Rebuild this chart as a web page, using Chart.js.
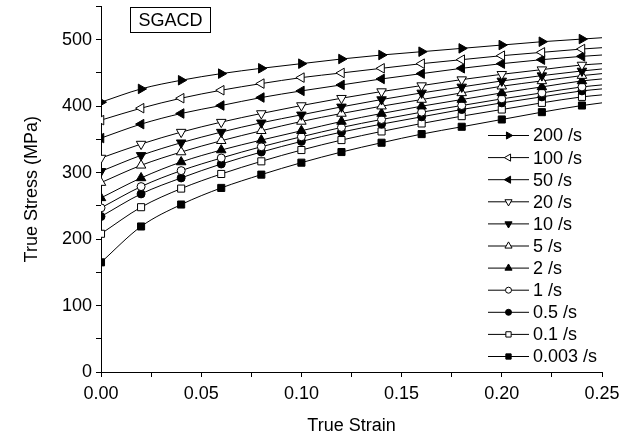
<!DOCTYPE html>
<html>
<head>
<meta charset="utf-8">
<script src="https://cdn.jsdelivr.net/npm/chart.js@4.4.1/dist/chart.umd.min.js"></script>
<style>
body { margin: 0; background: #fff; }
</style>
</head>
<body>
<canvas id="stressStrain" width="632" height="443"></canvas>
<script>
// TRUE STRESS vs TRUE STRAIN (SGACD)

const strains = [0, 0.02, 0.04, 0.06, 0.08, 0.10, 0.12, 0.14, 0.16, 0.18, 0.20, 0.22, 0.24, 0.25];

const rateLabels = ["200 /s", "100 /s", "50 /s", "20 /s", "10 /s", "5 /s", "2 /s", "1 /s", "0.5 /s", "0.1 /s", "0.003 /s"];

const stress200 = [406, 426, 439, 449, 457, 464, 471, 477, 482, 487, 492, 497, 501, 503];
const stress100 = [379, 397, 412, 424, 434, 443, 450, 457, 464, 470, 476, 481, 486, 488];
const stress50 = [352, 373, 389, 401, 413, 423, 432, 441, 449, 457, 464, 470, 475, 477];
const stress20 = [322, 343, 361, 376, 389, 401, 412, 422, 431, 440, 448, 455, 462, 464];
const stress10 = [302, 326, 345, 361, 375, 387, 399, 410, 420, 429, 438, 446, 453, 456];
const stress5 = [285, 311, 331, 348, 363, 377, 389, 400, 410, 420, 430, 438, 446, 449];
const stress2 = [262, 292, 316, 334, 349, 363, 377, 389, 400, 410, 420, 429, 438, 441];
const stress1 = [247, 279, 303, 322, 339, 354, 368, 380, 391, 401, 411, 420, 429, 432];
const stress05 = [234, 268, 292, 313, 331, 347, 361, 373, 384, 395, 405, 414, 423, 426];
const stress01 = [208, 248, 276, 298, 317, 334, 349, 362, 374, 385, 395, 405, 414, 417];
const stress0003 = [165, 219, 252, 277, 297, 315, 331, 345, 358, 369, 380, 391, 401, 405];

const allStress = [stress200, stress100, stress50, stress20, stress10, stress5, stress2, stress1, stress05, stress01, stress0003];

// marker look for each rate
const markerStyles = ["triangle", "triangle", "triangle", "triangle", "triangle", "triangle", "triangle", "circle", "circle", "rect", "rect"];
const markerRotations = [90, -90, -90, 180, 180, 0, 0, 0, 0, 0, 0];
const markerFilled = [true, false, true, false, true, false, true, false, true, false, true];
const markerSizes = [5.5, 5.5, 5.5, 5.5, 5.5, 5.5, 5.5, 4, 4, 5, 5];

Chart.defaults.font.family = "'Liberation Sans', Arial, sans-serif";
Chart.defaults.font.size = 18;
Chart.defaults.color = "#000";

const datasets = allStress.map((values, i) => ({
	label: rateLabels[i],
	data: strains.map((s, j) => ({ x: s, y: values[j] })),
	borderColor: "#000",
	borderWidth: 1,
	pointStyle: markerStyles[i],
	pointRotation: markerRotations[i],
	pointBackgroundColor: markerFilled[i] ? "#000" : "#fff",
	pointBorderColor: "#000",
	pointBorderWidth: 1,
	pointRadius: (ctx) => (ctx.dataIndex === strains.length - 1 ? 0 : markerSizes[i]),
	cubicInterpolationMode: "monotone",
	fill: false,
}));

//Legend drawn Origin-style: line through marker
const rateLegend = {
	id: "rateLegend",
	afterDatasetsDraw(chart) {
		const ctx = chart.ctx;
		ctx.save();
		ctx.font = "18px 'Liberation Sans', Arial, sans-serif";
		ctx.textBaseline = "middle";
		ctx.textAlign = "left";
		chart.data.datasets.forEach((ds, i) => {
			const y = 135.5 + i * 22.1;
			ctx.strokeStyle = "#000";
			ctx.lineWidth = 1;
			ctx.beginPath();
			ctx.moveTo(488, y);
			ctx.lineTo(529, y);
			ctx.stroke();
			ctx.fillStyle = ds.pointBackgroundColor;
			Chart.helpers.drawPoint(ctx, {
				pointStyle: ds.pointStyle,
				radius: markerSizes[i] * 0.75,
				rotation: ds.pointRotation,
				borderWidth: 1,
			}, 508.5, y);
			ctx.fillStyle = "#000";
			ctx.fillText(ds.label, 533, y + 1);
		});

		// sample name box
		ctx.strokeStyle = "#000";
		ctx.lineWidth = 1;
		ctx.strokeRect(130.5, 7.5, 80, 25);
		ctx.textAlign = "center";
		ctx.fillText("SGACD", 170.5, 21);
		ctx.restore();
	},
};

const stressStrainChart = new Chart(document.getElementById("stressStrain"), {
	type: "line",
	data: { datasets: datasets },
	options: {
		responsive: false,
		animation: false,
		layout: { padding: { top: 3, right: 30, bottom: 0, left: 0 } },
		plugins: { legend: { display: false }, tooltip: { enabled: false } },
		scales: {
			x: {
				type: "linear",
				min: 0,
				max: 0.25,
				afterFit: (scale) => {
					scale.height = 71;
					scale.paddingLeft = 0;
					scale.paddingRight = 0;
				},
				border: { display: true, color: "#000", width: 1 },
				grid: { drawOnChartArea: false, drawTicks: true, tickLength: 5, color: "#000" },
				ticks: {
					stepSize: 0.025,
					autoSkip: false,
					maxRotation: 0,
					padding: 6,
					callback: (v) => (Math.round(v * 1000) % 50 === 0 ? v.toFixed(2) : ""),
				},
				title: { display: true, text: "True Strain", padding: { top: 0, bottom: 6 } },
			},
			y: {
				min: 0,
				max: 550,
				afterFit: (scale) => {
					scale.width = 101;
					scale.paddingTop = 0;
					scale.paddingBottom = 0;
				},
				border: { display: true, color: "#000", width: 1 },
				grid: { drawOnChartArea: false, drawTicks: true, tickLength: 5, color: "#000" },
				ticks: {
					stepSize: 50,
					padding: 4,
					callback: (v) => (v % 100 === 0 ? v : ""),
				},
				title: { display: true, text: "True Stress (MPa)", padding: { top: 21, bottom: 0 } },
			},
		},
	},
	plugins: [rateLegend],
});
</script>
</body>
</html>
